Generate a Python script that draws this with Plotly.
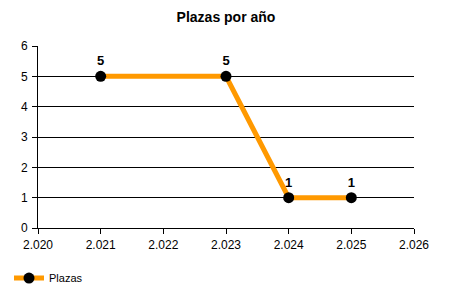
import plotly.graph_objects as go

years = [2021, 2023, 2024, 2025]
plazas = [5, 5, 1, 1]
labels = ["5", "5", "1", "1"]

fig = go.Figure()
fig.add_trace(go.Scatter(
    x=years, y=plazas, name="Plazas",
    mode="lines+markers+text",
    text=labels, textposition="top center",
    textfont=dict(family="Liberation Sans, Arial", size=13, color="#000"),
    texttemplate="<b>%{text}</b>",
    line=dict(color="#FF9900", width=5),
    marker=dict(color="#000", size=11),
    cliponaxis=False,
))

fig.update_layout(
    width=450, height=300,
    margin=dict(l=38, r=36, t=46, b=72, autoexpand=False),
    paper_bgcolor="white", plot_bgcolor="white",
    separators=",.",
    font=dict(family="Liberation Sans, Arial", size=12, color="#000"),
    title=dict(text="<b>Plazas por año</b>", x=0.5, xref="paper", y=0.943, yanchor="middle",
               xanchor="center", font=dict(size=14, color="#000")),
    xaxis=dict(range=[2020, 2026], dtick=1, tick0=2020, tickformat=",d",
               showline=True, linecolor="#000", linewidth=1, showgrid=False,
               ticks="outside", ticklen=5, tickcolor="#000", zeroline=False,
               automargin=False, fixedrange=True, ticklabelstandoff=1),
    yaxis=dict(range=[0, 6], dtick=1, showline=True, linecolor="#000", linewidth=1,
               showgrid=True, gridcolor="#000", gridwidth=1,
               ticks="outside", ticklen=5, tickcolor="#000", zeroline=False,
               automargin=False, ticklabelstandoff=2),
    showlegend=True,
    legend=dict(xref="container", yref="container", x=0.02, y=0.073,
                xanchor="left", yanchor="middle",
                font=dict(size=11, color="#000"), itemwidth=30,
                bgcolor="rgba(0,0,0,0)"),
)

fig.write_html("out.html")
